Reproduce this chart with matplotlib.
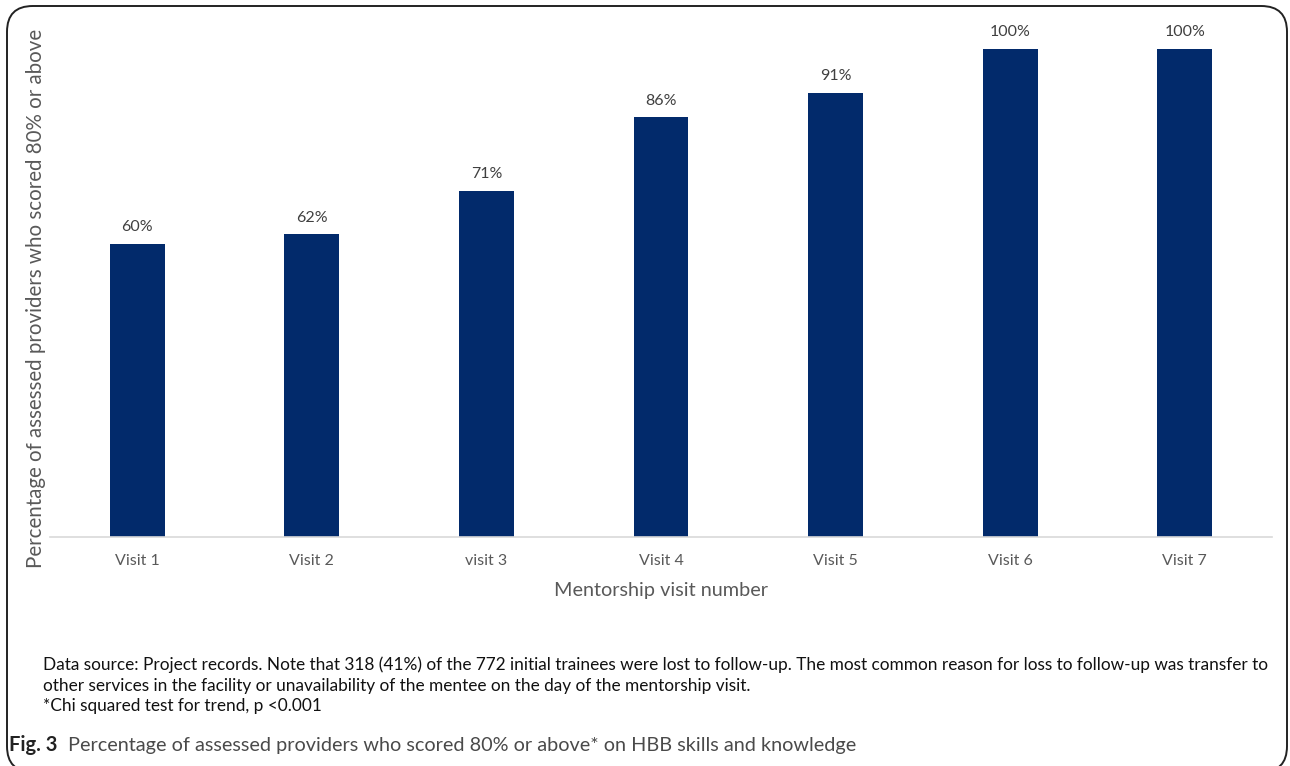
import matplotlib.pyplot as plt
from matplotlib.patches import FancyBboxPatch

plt.rcParams['font.family'] = ['Lato', 'DejaVu Sans']

visits = ["Visit 1", "Visit 2", "visit 3", "Visit 4", "Visit 5", "Visit 6", "Visit 7"]
percent = [60, 62, 71, 86, 91, 100, 100]

W, H = 1290, 766
fig = plt.figure(figsize=(W / 100, H / 100), dpi=100)

# rounded frame around the whole figure panel
frame = FancyBboxPatch((7 / W, -6 / H), 1280 / W, 766 / H,
                       boxstyle="round,pad=0,rounding_size=0.02",
                       transform=fig.transFigure, fill=False,
                       edgecolor="#222222", linewidth=1.4,
                       mutation_aspect=W / H)
fig.patches.append(frame)

ax = fig.add_axes([50 / W, 229 / H, 1222 / W, 488 / H])
x = range(len(visits))
bars = ax.bar(x, percent, width=0.315, color="#022A6B")
ax.set_xlim(-0.5, len(visits) - 0.5)
ax.set_ylim(0, 100)

for b, v in zip(bars, percent):
    ax.annotate(f"{v}%", (b.get_x() + b.get_width() / 2, v),
                xytext=(0, 7), textcoords="offset points",
                ha="center", va="bottom", fontsize=11.5, color="#404040",
                annotation_clip=False)

ax.set_xticks(list(x))
ax.set_xticklabels(visits, fontsize=11.5, color="#595959")
ax.tick_params(axis="x", length=0, pad=12)
ax.set_yticks([])
for s in ["top", "right", "left"]:
    ax.spines[s].set_visible(False)
ax.spines["bottom"].set_color("#d9d9d9")
ax.spines["bottom"].set_linewidth(1.2)

ax.set_xlabel("Mentorship visit number", fontsize=14.3, color="#595959", labelpad=10)
fig.text(36 / W, 1 - 298 / H, "Percentage of assessed providers who scored 80% or above",
         rotation=90, ha="center", va="center", fontsize=14.8, color="#595959")

note = ("Data source: Project records. Note that 318 (41%) of the 772 initial trainees were lost to follow-up. "
        "The most common reason for loss to follow-up was transfer to\n"
        "other services in the facility or unavailability of the mentee on the day of the mentorship visit.\n"
        "*Chi squared test for trend, p <0.001")
fig.text(43 / W, 1 - 656 / H, note, ha="left", va="top", fontsize=12.4,
         color="#111111", linespacing=1.38)

fig.text(9 / W, 1 - 745 / H, "Fig. 3", ha="left", va="center", fontsize=14.5,
         fontweight="bold", color="#222222")
fig.text(68 / W, 1 - 745 / H,
         "Percentage of assessed providers who scored 80% or above* on HBB skills and knowledge",
         ha="left", va="center", fontsize=14.3, color="#4a4a4a")

fig.savefig("out.png", dpi=100)
